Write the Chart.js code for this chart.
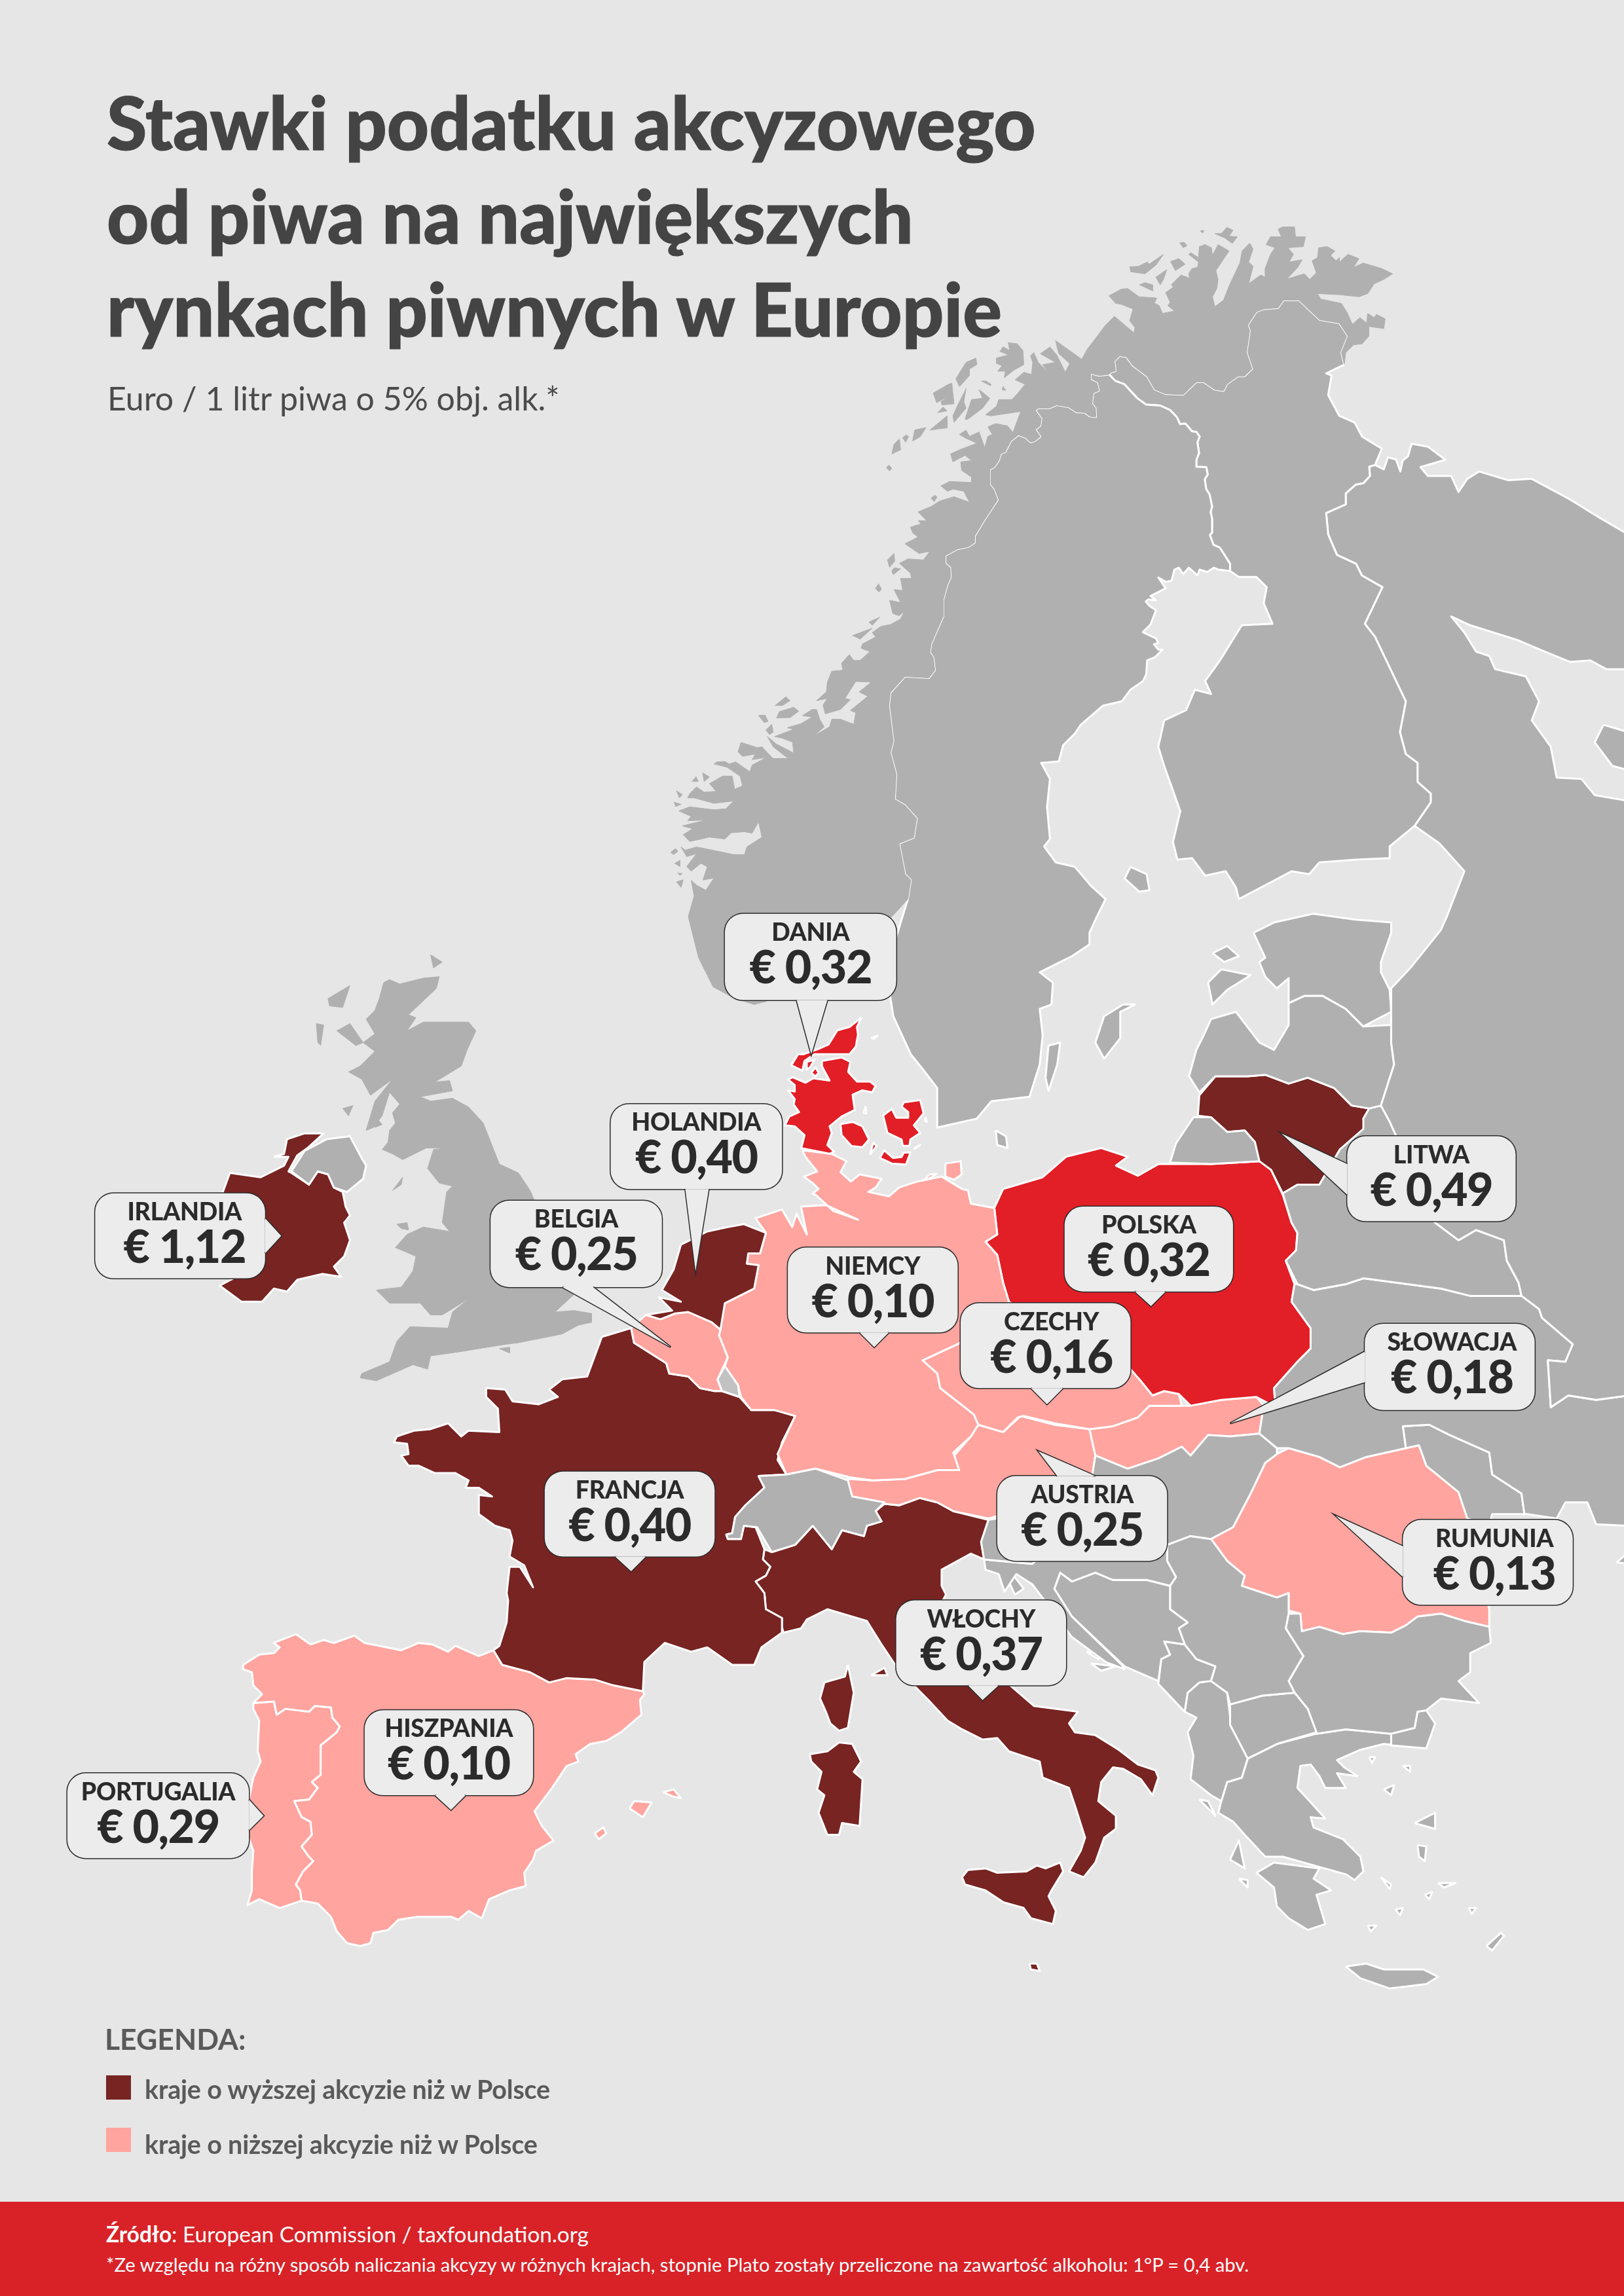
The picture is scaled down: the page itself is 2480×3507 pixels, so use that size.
<!DOCTYPE html>
<html lang="pl">
<head>
<meta charset="utf-8">
<title>Stawki podatku akcyzowego</title>
<script src="https://cdn.jsdelivr.net/npm/chart.js@4/dist/chart.umd.min.js"></script>
<style>
  html, body { margin: 0; padding: 0; background: #e6e6e6; }
  #page { position: relative; width: 2480px; height: 3507px; overflow: hidden; background: #e6e6e6; font-family: Lato, sans-serif; }
  #map { position: absolute; left: 0; top: 0; }
  .t { position: absolute; white-space: nowrap; }
  #title { left: 163px; top: 115px; font-size: 111.5px; font-weight: 900; line-height: 142.5px; color: #444; -webkit-text-stroke: 1.2px #444; }
  #sub { left: 164px; top: 578px; font-size: 50px; color: #4b4b4b; }
  #legTitle { left: 160px; top: 3087px; font-size: 44.5px; font-weight: 700; color: #5a5a5a; }
  .swatch { position: absolute; left: 162px; width: 38px; height: 37px; }
  .leg { left: 221px; font-size: 39.5px; font-weight: 700; color: #5a5a5a; letter-spacing: -0.2px; }
  #foot { position: absolute; left: 0; top: 3363px; width: 2480px; height: 144px; background: #d82227; }
  #src { left: 162px; top: 3392px; font-size: 33.4px; color: #fff; }
  #note { left: 162px; top: 3441px; font-size: 29.2px; color: #fff; }
  .name, .val { position: absolute; text-align: center; white-space: nowrap; color: #2b2b2b; transform: translateX(-50%); }
  .name { font-size: 37.5px; font-weight: 900; line-height: 40px; letter-spacing: -0.3px; }
  .val { font-size: 70px; font-weight: 900; line-height: 76px; letter-spacing: -1.5px; }
</style>
</head>
<body>
<div id="page">
  <canvas id="map" width="2480" height="3507"></canvas>
  <div class="t" id="title">Stawki podatku akcyzowego<br>od piwa na największych<br>rynkach piwnych w Europie</div>
  <div class="t" id="sub">Euro / 1 litr piwa o 5% obj. alk.*</div>
  <div class="t" id="legTitle">LEGENDA:</div>
  <div class="swatch" style="top:3170px;background:#772422"></div>
  <div class="t leg" style="top:3167px">kraje o wyższej akcyzie niż w Polsce</div>
  <div class="swatch" style="top:3250px;background:#ffa49f"></div>
  <div class="t leg" style="top:3251px">kraje o niższej akcyzie niż w Polsce</div>
  <div id="foot"></div>
  <div class="t" id="src"><b>Źródło</b>: European Commission / taxfoundation.org</div>
  <div class="t" id="note">*Ze względu na różny sposób naliczania akcyzy w różnych krajach, stopnie Plato zostały przeliczone na zawartość alkoholu: 1°P = 0,4 abv.</div>
</div>
<script>
// stawki akcyzy
const countries = ['IRLANDIA', 'HOLANDIA', 'BELGIA', 'DANIA', 'NIEMCY', 'POLSKA', 'CZECHY', 'LITWA', 'SŁOWACJA', 'FRANCJA', 'AUSTRIA', 'RUMUNIA', 'WŁOCHY', 'HISZPANIA', 'PORTUGALIA'];
const rates = [1.12, 0.40, 0.25, 0.32, 0.10, 0.32, 0.16, 0.49, 0.18, 0.40, 0.25, 0.13, 0.37, 0.10, 0.29];
const polandRate = 0.32;

// obrysy krajow: x,y,x,y... w jednostkach skali mapy
const norSwe = [620,614,622,601,618,597,614,576,624,572,626,559,618,550,611,546,612,529,608,514,610,506,607,482,608,473,618,462,634.3,463,638.4,457.7,637.3,448.8,635,445.8,635.8,439.9,644,421.2,644,410,647,399,649.2,394.4,648.8,387.7,645.5,384.7,645.5,379.5,653.7,375,661.2,373.5,665.6,370.5,665.6,366,672.4,354.9,681.3,341.4,678.3,334,675.8,331,675.8,320.6,679,319,682,314.6,683.5,309.8,686.5,308.6,690.3,301.2,695.5,297,700.7,299,703.7,302,706.6,301.2,710.4,298.2,707,293.4,710.4,290.7,711.1,286,707,280.3,709,278.8,716.3,278.8,721.6,276.6,729.8,278,735,281.4,741,281.8,744,284.3,748.4,284.8,748.1,278.8,745.7,275.8,746.5,268.4,750.3,266.9,749.2,261.7,744.7,259.4,744.7,255,750.6,256.5,757.3,255.7];
const sweFin = [757.3,255.7,761.8,260.2,767.8,262.4,776.7,272,782.7,276.3,792.4,277,799,280,803.6,284.8,805.8,289.6,809.5,289.3,814,294.5,817,295,819.2,298.2,817.7,302,818.8,309.4,817,314,817,318.8,823.7,319,824.7,324,822.7,327.3,823.7,334,826,337.7,827.7,346,826.7,349.6,827.7,354.1,827.7,363.8,826.2,365.3,828.6,372,833,374,840,385,840,390];
const finNor = [757.3,255.7,758.8,254.2,761.7,253.4,761,246.7,764.7,243,769.2,243.7,773.7,249.7,783.4,257,788.6,266,796,269,808,269.5,817,260.9,822,260.9,829.6,266,835.5,266.9,837.8,262.4,845.2,257,849.7,257,855,252,851.2,240.8,853.4,225.9,852,222,858,213,863,211,872.8,210.2,876.5,205,887,205];
const finEast = [901.2,218.4,914.6,220.6,920.5,229.6,916,240.8,918,249,905.6,255,909.3,256.4,907,269.8,914.6,284,925,288.5,930.2,298.2,943.6,306.4,939,317.5,935,318.7,935.5,325,931,330,925.7,331,919,337,919,344.4];
const finRus = [919,344.4,905.6,350.4,907,365,913,379,926,385,930,393,944,401,932,426,939,435,960,479,956,500,960,515,968,521,968,534,977,542,977,548,966,564];

const swedenCoast = [832,389,829,387.7,824.4,390.6,819.2,389,817.7,393,811.8,387.7,808,392,805,387.7,802,389,800,396.6,796,397.4,791,394.4,796,401.8,785.7,407,789.4,410,784.2,409.3,782.4,410.8,785,413.8,789.4,416.7,785.7,426.4,780.4,431.7,789.4,436,790.9,439,788,440,790.9,443.6,794,443.6,788.7,448.8,783.4,451,782.7,460.7,780.4,465.2,772,471,766,479,753,482,738,495,734,501,726,509,723,520,711,521,717,532,715,551,717,573,713,578,721,589,734,592,745,605,755,614,749,626,744,637,744,645,732,653,722,658,710,664,719,671,718,686,710,689,712,707,710,727,703,749,677,752,667,764,640,770,640,743,630,730,622,720,610,694,608,681,612,640];
const finlandCoast = [949,578,949,586,926,587,901,589,894,597,882,595,867,603,846,614,844,606,837,595,823,598,814,586,804,587,801,575,806,554,795,523,791,510,795,492,810,485,816,471,827,474,823,465,831,454,835,448,848,427,869,426,863,412,865,401,858,394,846,394];
const norwaySouth = [610,625,570,660,523,684,515,686,502,682,487,674,477,654,470,626,474,612,472,601,475.6,604.5,482,608,488,599,508,596,480,601,483,592,478.6,589.6,472,595,469,591.8,475.6,583,469,585,465,578.4,468,580.6,475.6,578.4,493.6,582,501,583.6,508.4,583.6,510,578.4,520.3,571.7,518,561.3,513.6,569,508.4,568,499.4,568.7,495,573,484.5,571.7,471,574.7,466.6,570,473,566,466,564,482.3,560,469.6,560.5,471.9,557.5,463.6,553.8,471,551,487.5,553,495.7,552.3,501,547,487.5,548.6,474,544.9,469.6,544.9,471,542,475.6,537.4,480.8,541,489,540.4,484.5,535.2,493.4,530,500,530,501.7,539,507,536.7,505.4,530,496.5,524,487.5,521.7,489.7,520.3,495,520,498,521.7,502.4,520.3,512,527,513.6,522.5,523.3,517.3,513.6,518.8,515.8,515,507,516.5,504,513.5,506,507,517.3,510.6,520.3,510,527.8,518,538.2,518,528,510,524,503,530,508,542,514.3,541.2,506.8,533.7,504,529,503,542,498,537.5,497,547,494.2,554.6,489.7,548,488.7,554.6,484.5,557.6,484.5,559.8,491.2,562.8,496.4,556,502.4,566.5,496.4,568,491.2,574,491.2,583,494.6,584.4,486.7,580.7,485.2,592.6,475.5,586.7,472.5,595,465.8,584.4,465.4,577,477,580.7,477.8,574,484.5,563.5,487.5,562,481.5,565,477,557.6,478.5,564.3,472.5,565,465.8,568,458.4,575.5,457.7,574.7,453,580,447,583,451,587.4,451,594,445,588,442.7,589,439.7,598,435,595.6,432,601.6,427.8];
const norwayMid = [608,426.5,615,422.7,617.5,417.5,614,420.5,609.7,419,607.5,410,615,411.5,610.5,402.6,616.4,403.3,615,395,622.4,395,621.7,391.4,614.2,384.7,620,381.7,630.6,382.4,635,376.5,627.6,378,618,371.3,626.9,366.8,623.2,363.8,621.7,360,629,357.8,627,355.6,632.8,355.6,626.9,349.6,635.8,345.9,641.8,342.2,651.5,339.2,662,343,658.2,335.5,650.7,334,647,335.5,642.5,331.8,648.5,328.8,663.4,329.5,663.4,325.8,656.7,321.3,656,315.4,663.4,314.6,659,311,650.7,315.4,649.2,310,655.2,307.2,667,302.7,659,299,655.2,296.7,659.7,293.7,662,298,668.6,295,672.4,305.6,674.6,298,677.6,296.7,674.6,291.5,679.8,289.3,688,290.8,691.7,295.2,696.2,283.3,697,281,676.8,284,673,283.3,680.6,277.3,682,272.9,691,272.9,694.7,269,700,262.4,693.2,259.4,699.2,254.2,704.4,255.7,705.2,247.5,703.7,243,706,240.8,709,247.5,715.6,254.2,712,249,720.8,247.5,710.4,241.6,717,237,721.6,242.3,727.5,254.2,730.5,248.3,723,241.5,720.8,232.6,738.7,245.3,742.4,238.6,747,232.6];
const norwayNorth = [755,222,761,216,774.4,227.3,775,223.6,771.4,219,773.7,211,766.2,208,761.7,207,757.3,202,765.5,197.5,770,197,778,202.7,790,203.5,788.3,207,791.6,208.7,793.8,214,802,212.4,797.5,208.7,799,206.5,796,199.8,801.3,196,799.8,194.5,806.5,187.8,812.4,190,811.7,187,814,183.4,817.7,182.6,818.4,179,811.7,173.7,813.2,172.6,818.4,175.9,819,168.4,822.9,167,827.3,169.2,828,174.4,831.8,167,839.3,171.4,830.3,184.8,831.8,190.8,831,196.8,828,202.7,829.6,209.4,835.5,205,839.3,195.3,846.7,179.6,848.2,171.4,853.4,166,855.7,170,852.7,178.9,855.7,181.9,852.7,193.8,860.9,187.8,863.9,189.3,863.9,183.4,867.6,173.7,870.6,169.2,864.6,167,867.6,161.7,875,161.7,872.8,156.5,875.8,155,884,155,884.7,161.7,891.5,161.7,890,168.4,879.5,169.2,883.3,173.7,880.3,178.9,889.2,177.4,886.2,182.6,878.8,190.5,890.7,187,894.4,190.8,898.9,186.3,896,178.1,899.7,175.9,900.4,169.2,906.4,168.4,911.6,171.4,908.6,174.4,912.3,178.1,914.6,175.9,914.6,178.9,920.5,173.7,928,176.6,924.3,182.6,931,179.6,943.6,183.4,951,187,945,190.8,938.4,193.8,934,200.5,928,202.7,915.3,201.3,899.7,200.5,901.9,204.2,916,207.2,919.8,213.2,923.5,221.4,928.7,216.9,933.2,220.6,934,214,938.4,216.9,939.9,214.7,945.9,217.7,945,224.4,934.7,222.9,934.7,229.6,930.2,234.8,924.3,235.5,919,240.8,918,249];
const norwayIslands = [[682.8,240,688.8,242.3,680.6,244.5,680.6,248.3,684.3,249.7,681.3,253.5,686.5,253.5,685.8,258,692.5,252.7,699.2,249,698.5,239.3,694.7,234.8,688.5,234,689.5,239.3,685,236.8],[659.7,247.5,666.4,244.5,667.1,249,662,252,662,256.5,655.2,264,652.7,258.7],[637.3,268.4,647.8,262.4,650,261.7,651.5,275.8,643.3,276.6,642.5,274.4,647.8,270.6,639.6,275],[653.7,277.3,659.7,265.4,658.2,274.4,659.7,278.8,651.5,288.5,650.7,284],[659,286.3,663.4,272.9,670.9,272,668.6,266,676,272,670.9,278.8,661,286.3],[640.3,281.8,644,278,646.7,280.6],[635,293.7,646.7,284,646.7,292.2],[623.2,301.2,624.6,293.7,632.4,292,628.4,298.2],[616.4,299,618.7,297,620.5,298.2,618.4,302],[609,310,610.5,303.4,614.2,299.7,615,307.2],[605.3,319.4,607,317.6,609,319.8,607.5,321.6],[670.1,260.2,673.1,260.2,676.8,262.4,676.5,263.5],[606,382.4,610.5,378,611,383.2,607.5,387.4],[609,390,610.5,387.7,615,388.4,610,392.4],[635.8,340.2,638.4,338.2,639.9,339.4,638,342.6],[684.3,266.2,685,263.9,686.8,266.6],[597.8,401.7,600,398.7,602,402.5,600,404.3],[593.4,424.8,600.8,421.5,595.6,427],[582.2,434,595.6,429,587.4,436.5],[529.3,481.8,536.7,475.8,539.4,478.5,534.5,481.8],[532.2,486,542,483,545.4,485.7,539.7,490,530.3,490.4],[518,488.6,522.5,488.3,524.5,492.7,521.8,493.4],[523,498.6,527,494.6,528,500.1,525.5,501.6],[472.6,533.7,475.3,530.4,476.8,533.7],[479.8,527.7,484.5,530.7,480.8,533.7],[461.9,540,465.9,542.6,464,544.9],[460.4,547.8,465.1,549.3,461.4,550.8],[458,582,461.4,579.6,462.9,581.4,460,583.6],[460.7,589.6,464.4,587.6,464.4,591.8],[462.9,596.3,465.9,596.6,464.4,597.8],[461.9,602.3,466.6,600.8,465.1,606],[771.4,182.2,777.4,181.9,783.4,178.9,784.8,180.4,794.5,173.7,789.3,181.1,781.9,187,772.2,185.6],[778.1,194.5,781.9,193,787.1,194.5,787.1,198.6],[789.3,189.3,796.8,184.1,794.5,190.8,792.3,194.5],[799.3,178.6,805,176.6,809.4,180.4,802.7,184.8],[805.7,165.8,808.7,165.5,810.6,167.7,808,169.2],[829.6,159.5,834,159.5,837.8,155.3,842,157.3,839.3,161.3,845,161.7,841.5,166.2,836.3,162.5],[819.6,157.7,822.1,157.3,821.4,159.2]];

const russia = [919,344.4,919,337,925.7,331,931,330,935.5,325,935,318.7,939,317.5,945,320.5,947.8,312.3,953.3,313.8,956.3,322,957.8,314.6,961.5,311.6,964,303,975,305,987,314,970,319,975,325,991,325,996,336,1002,327,1010,322,1030,328,1046,327,1072,341,1093,354,1112,365,1112,457,1097,457,1086,451,1072,452,1055,445,1036,437,1004,427,991,421,1000,432,1008,445,1017,448,1021,457,1042,462,1051,479,1046,492,1059,510,1063,531,1080,532,1089,543,1112,547,1112,953,1090,956,1071,953,1059,961,1057,929,1069,930,1074,918,1053,900,1051,894,1039,885,1037,876,1029,861,1027,847,1008,840,996,847,980,835,949,766,943,755,952,727,950,712,950,675,964,660,984,635,988,626,1000,595,983,576];
const estonia = [856,637,870,630,897,624,925,628,950,630,950,637,943,657,943,664,949,676,950,691,931,701,919,689,903,680,891,680,880,685,880,668,872,675,864,667,860,657,864,654];
const latvia = [880,685,891,680,903,680,919,689,931,701,950,700,950,712,952,727,943,755,935,757,923,755,911,743,893,736,880,740,864,734,852,735,830,735,819,746,812,735,817,717,822,707,827,696,844,691,860,712,870,717,880,700];
const kaliningrad = [815,763,827,763,838,773,850,772,857,780,860,793,827,795,799,794,803,781];
const belarus = [876,815,886,809,901,809,915,785,931,771,931,764,935,757,943,755,949,766,980,835,996,847,1008,840,1027,847,1029,861,1037,876,1039,885,1004,885,984,880,931,873,919,877,897,881,886,877,878,861,885,854,886,842,882,835];
const ukraine = [886,877,897,881,919,877,931,873,984,880,1004,885,1039,885,1051,894,1053,900,1074,918,1069,930,1057,929,1059,961,1071,953,1090,956,1112,953,1112,1042,1090,1041,1084,1026,1069,1026,1063,1037,1043,1034,1041,1034,1039,1020,1019,1007,1017,992,990,980,976,973,958,974,960,989,933,995,915,1002,901,995,880,989,872,989,860,979,863,960,871,960,870,948,886,930,895,921,895,907,882,889,884,877];
const moldova = [958,974,976,973,990,980,1017,992,1019,1007,1039,1020,1041,1034,1019,1034,1017,1042,1002,1037,996,1019,974,1001,969,987,960,989];
const hungary = [748,994,770,1003,791,996,807,988,813,994,825,980,840,981,860,979,872,989,872,993,864,999,854,1020,842,1043,827,1051,813,1049,797,1055,760,1055,735,1030,746,1007];
const slovenia = [675,1038,720,1030,735,1030,730,1045,705,1068,672,1065,670,1053];
const croatia = [672,1065,705,1068,730,1045,735,1030,760,1055,797,1055,797,1066,803,1077,799,1083,783,1079,760,1079,748,1074,732,1080,724,1074,720,1085,732,1104,766,1137,768,1140,755,1135,732,1118,705,1082,694,1075,686,1087,682,1075,673,1072];
const bosnia = [724,1074,732,1080,748,1074,760,1079,783,1079,799,1083,799,1099,811,1108,805,1112,809,1123,795,1121,799,1130,793,1133,791,1148,768,1138,732,1104,720,1085];
const serbia = [797,1055,813,1049,827,1051,838,1066,850,1076,848,1083,872,1091,880,1088,880,1102,878,1112,890,1131,880,1148,884,1156,862,1158,840,1164,838,1156,827,1148,830,1138,817,1133,809,1123,805,1112,811,1108,799,1099,799,1083,803,1077,797,1066];
const montenegro = [809,1123,817,1133,830,1138,827,1148,819,1149,811,1156,809,1169,791,1150,793,1133,799,1130,795,1121];
const albania = [811,1156,819,1149,827,1148,838,1156,840,1172,840,1178,852,1201,848,1214,838,1217,834,1230,827,1226,813,1215,815,1199,811,1183,817,1173,809,1169];
const macedonia = [840,1164,862,1158,884,1156,893,1167,899,1183,872,1191,852,1201,840,1178];
const bulgaria = [880,1102,888,1102,889,1114,901,1111,917,1116,929,1114,950,1115,960,1110,968,1104,984,1102,1000,1107,1017,1111,1018,1122,1004,1129,1004,1142,996,1148,1010,1163,984,1160,974,1168,968,1169,966,1180,950,1184,919,1181,899,1184,893,1167,884,1156,880,1148,890,1131,878,1112];
const turkey = [974,1168,980,1177,974,1194,950,1192,950,1184,966,1180,968,1169];
const greece = [899,1184,919,1181,950,1184,966,1180,974,1194,945,1191,929,1195,913,1202,918,1207,927,1213,913,1211,919,1221,905,1221,901,1213,895,1205,888,1206,886,1221,897,1233,905,1242,895,1241,897,1248,917,1256,929,1268,931,1278,925,1284,919,1280,901,1275,876,1268,864,1268,850,1253,842,1244,832,1238,834,1230,838,1217,848,1214,852,1201,872,1191];
const greekIslands = [[858,1279,870,1272,901,1276,897,1283,909,1291,899,1294,905,1314,893,1318,880,1310,872,1302,870,1289],[899,1251,917,1259,931,1275,923,1270,901,1257],[919,1343,933,1341,945,1345,972,1345,982,1350,974,1355,949,1358,929,1351],[1015,1329,1025,1320,1027,1322,1019,1332],[966,1245,980,1238,980,1249],[968,1260,974,1261,973,1271,969,1268],[819,1229,825,1230,830,1240],[840,1270,846,1257,850,1276],[846,1283,852,1284,852,1289],[945,1222,952,1219,950,1226],[935,1200,939,1200,937,1204],[958,1206,963,1206,963,1210],[943,1282,950,1287,949,1290],[982,1286,994,1286,986,1289],[973,1294,978,1292,976,1297],[953,1304,958,1303,956,1308],[1003,1303,1008,1303,1005,1307],[934,1315,940,1315,936,1319]];
const adriaticIslands = [[689,1080,693,1077,699,1085,693,1089],[742,1128,757,1130,750,1133],[745,1136,762,1138,752,1141]];
const uk = [262,671,266,669,273,672,289,668,300,667,298,675,279,693,284,695,278,704,289,698,320,698,325,704,319,717,315,728,297,739,307,738,309,745,287,749,294,752,309,750,320,756,330,767,341,795,354,801,362,813,365,820,375,850,392,884,379,896,392,895,404,897,404,903,395,905,384,911,354,917,346,918,333,920,315,923,294,926,292,935,282,932,257,943,246,941,247,938,266,930,271,916,280,906,306,907,309,896,320,887,302,898,294,898,287,890,266,890,257,881,274,879,282,868,284,858,270,852,278,843,289,838,307,841,302,835,305,814,309,810,300,808,292,798,296,785,306,784,291,784,275,792,268,788,261,785,265,780,266,772,270,767,268,760,273,754,266,746,261,762,255,770,250,772,256,752,268,737,253,748,247,737,238,732,246,728,256,718,248,712,256,706,250,696,256,690,259,682];
const northIreland = [199,800,208,786,223,778,239,776,247,791,250,796,248,805,237,814,228,811,224,802,217,800,211,809];
const ukIslands = [[224,682,239,673,234,688,225,687],[230,704,239,699,248,712,243,714],[216,699,221,700,219,714,217,712],[234,757,241,755,238,762],[256,762,261,768,256,770],[268,813,275,804,274,809],[271,836,278,835,279,840,274,839],[294,652,302,657,296,661],[341,921,348,920,348,924]];
const balticIslands = [[772,592,783,597,785,608,778,609,768,600],[825,671,834,662,854,666,838,676,828,686],[828,651,838,646,846,653,836,657],[748,712,754,694,767,686,775,686,765,691,765,709,754,723],[714,736,716,714,724,712,722,727,716,745],[680,772,687,776,688,784,681,782],[1095,495,1112,500,1112,526,1101,523,1089,507],[1104,1067,1112,1060,1112,1068]];
const swiss = [518,1008,537,1007,557,1003,579,1011,582,1022,604,1026,598,1032,602,1039,592,1042,590,1049,575,1045,568,1058,555,1042,543,1055,527,1060,517,1043,508,1042,506,1051,497,1051,496,1048,500,1047,502,1036,509,1028,522,1016];
const luxembourg = [495,933,490,942,493,950,505,954,504,946];
const peipus = [952,678,962,676,962,684,970,691,980,693,984,700,964,707,954,714,950,707];

const ireland = [[187,790,194,788,196,778,208,774,221,774,210,784,203,789,197,800,199,801,211,809,217,800,224,802,228,811,234,814,236,824,239,830,235,835,239,847,235,858,228,865,233,872,220,870,203,874,196,882,187,880,179,889,165,889,150,878,165,870,160,860,150,850,150,820,157,801,178,804,194,796,197,790]];
const netherlands = [[465,850,483,841,497,838,508,836,523,842,519,856,511,856,510,863,518,864,515,880,495,890,492,908,486,903,470,896,461,897,451,901,441,898,459,895,450,886,465,889,452,881,460,867]];
const belgium = [[431,907,441,898,451,901,461,897,470,896,486,903,492,908,491,912,497,927,490,942,493,950,488,950,478,948,470,940,457,938,455,931,433,917]];
const denmark = [[588.2,695,585.2,701.4,585.9,706.6,584.4,714.8,580,720,569.5,720,556.1,720,549.4,724.5,547.9,731.2,540.4,727.5,544.9,720,548.6,720,559,716.3,565.8,713.3,571.8,703.6,580,701.4],[561.3,724.5,574.7,722.2,580.7,725.2,579.2,732,585.2,738.6,594.1,738.6,597.9,741.6,595.6,746,588.9,744.6,582.2,747.6,583.7,758,574.7,762.5,566.5,769.2,568,773.7,565,782,569.5,786.4,566.5,787.9,547.2,784.1,549.4,775.2,542.7,769.2,536,768.5,539,762.5,545.7,759.5,542,754.3,542.7,750.6,538.2,744.6,542.7,745.4,542.7,741,538.2,737.2,541.2,735.7,550.1,739.4,555.4,736.4,566.5,737.9,561.3,728.2],[550.9,725.2,556.1,723.7,553.1,729,550.9,730.5],[553.9,732.7,556.8,729,559.1,732.7,556.8,735],[574,767.7,582.2,766.2,588.9,769.2,593.4,778.2,588.9,783.4,581.4,782.6,574.7,775.2],[603.1,761.8,609,757.3,612,763.3,620.2,763.3,620.2,759.5,615.7,755.8,617.2,752.8,628.4,751.3,630.7,760.3,624,768.5,628.4,773.7,621.7,778.2,621,782.6,616.5,782.6,615.7,778.2,606,773.7],[600.8,790.8,603.8,785.6,609.8,790.8,615.7,790.1,617.2,787.1,621.7,787.1,618.7,795.3,609,794.6],[594.1,788.6,596.4,780.4,598.6,782.6],[589.6,760.3,591.1,755.8,591.6,760.3],[594.9,708.8,599.3,707.3,597.1,709.3],[624,784.9,628.4,781.9,624.7,784],[631.4,765.5,632.1,763.3,632.9,766]];
const germany = [[548,785.6,568,788,578,793,574,800.5,581,807,587,802,602,805,598,811,593,814,607,817,614,811,626,807,643,803.5,657,812,661,813,663,822,679,825,681,843,673,848,681,857,685,876,689,889,656,917,630,929,640,938,642,948,665,966,668,973,663,981,651,992,655,1004,640,1004,618,1010,596,1011,581,1009,557,1003,537,1007,531,993,543,967,529,963,513,963,506,954,504,946,495,933,497,927,491,912,495,890,515,880,518,864,510,863,511,856,519,856,523,842,516,832,534,826,541,838,544,829,551,843,547,824,564,823,586,833,569,827,557,816,555,815,559,812,555,808,549,803.5,558,800,550,790],[645.6,794.6,656,793,656.7,802,651.5,805.7,645.6,803.5],[629,808,635,802,639.6,801.7,632,806.5]];
const poland = [[685,812,712,804,728,790,752,784,770,790,762,796,777,803,791,795,827,795,860,793,868,799,876,816,882,835,886,842,885,854,878,861,884,877,882,889,895,907,895,921,886,930,870,948,871,961,858,954,834,956,813,960,805,952,795,950,787,953,779,943,772,935,744,922,689,889,685,876,681,857,673,848,681,843,679,825]];
const czechia = [[656,917,689,889,744,922,772,935,779,943,787,953,795,950,805,952,807,960,795,960,785,960,777,968,760,974,744,976,720,972,699,967,695,968,685,978,668,973,665,966,642,948,640,938,630,929]];
const lithuania = [[819,748,830,735,852,735,864,734,880,740,893,736,911,743,923,755,935,757,931,764,933,771,915,785,901,809,886,809,876,815,868,799,854,791,857,780,850,772,838,773,827,763,818,762]];
const slovakia = [[744,976,760,974,777,968,785,960,795,960,807,960,813,960,834,956,858,954,863,960,860,979,840,981,825,980,813,994,807,988,791,996,770,1003,748,994]];
const france = [[411,913,431,907,433,917,455,931,457,938,470,940,478,948,488,950,493,950,505,954,513,963,529,963,543,967,534,985,531,997,537,1007,518,1008,522,1016,509,1028,502,1036,500,1047,496,1048,497,1051,506,1051,508,1042,516,1043,522,1058,521,1065,526,1070,523,1076,516,1080,522,1088,523,1099,534,1105,534,1115,520,1125,515,1137,500,1137,483,1125,472,1128,454,1122,440,1135,439,1155,419,1151,406,1147,387,1146,375,1149,362,1142,343,1137,337,1127,341,1124,346,1108,347,1093,346,1088,348,1070,355,1070,364,1084,358,1069,348,1063,350,1052,348,1045,338,1042,327,1034,327,1021,336,1022,327,1016,318,1016,320,1011,311,1006,297,1006,286,1001,279,1001,274,994,279,993,278,986,269,985,271,981,283,977,294,976,306,972,315,981,320,977,341,978,340,962,332,954,332,948,345,949,350,957,368,959,381,954,375,949,384,942,401,940]];
const austria = [[668,973,685,978,697,967,720,973,744,976,748,994,746,1007,745,1020,700,1030,675,1037,651,1032,640,1026,628,1023,614,1028,604,1027,598,1025,581,1022,579,1010,596,1011,618,1010,640,1004,655,1004,649,997,663,981]];
const romania = [[872,993,880,989,901,995,915,1002,933,995,960,989,969,987,974,1001,996,1019,1002,1037,1010,1070,1017,1099,1017,1111,1000,1107,984,1102,968,1104,960,1110,950,1115,929,1114,917,1116,901,1111,889,1114,888,1102,880,1100,880,1088,872,1091,848,1083,850,1076,838,1066,827,1051,842,1043,854,1020,864,999]];
const italy = [[527,1060,543,1055,555,1042,568,1058,575,1045,590,1049,592,1042,602,1039,598,1032,604,1027,614,1028,628,1023,640,1026,651,1032,675,1038,670,1053,672,1065,663,1061,643,1072,643,1083,646,1089,642,1096,665,1130,691,1152,706,1165,736,1169,730,1177,734,1183,748,1185,764,1195,777,1205,789,1209,791,1214,787,1226,779,1215,767,1208,760,1207,752,1217,750,1230,762,1240,762,1249,754,1255,748,1272,740,1282,730,1278,738,1264,741,1255,735,1236,730,1221,712,1214,710,1203,689,1196,681,1187,671,1188,657,1181,647,1175,634,1161,626,1153,612,1138,602,1123,592,1107,565,1099,551,1106,547,1112,535,1115,534,1111,534,1105,523,1099,522,1088,516,1080,523,1076,526,1070,521,1065,522,1058],[657,1282,661,1277,673,1276,681,1279,701,1278,708,1274,714,1276,724,1272,726,1278,718,1291,716,1295,721,1305,719,1314,704,1310,699,1303,685,1299,673,1291,659,1287],[553,1198,565,1196,573,1190,582,1191,588,1203,583,1210,589,1215,587,1247,575,1245,573,1253,565,1253,559,1238,563,1226,558,1222,561,1210,554,1203],[579,1137,583,1156,579,1180,573,1182,567,1177,564,1169,560,1160,563,1149,577,1145],[595,1144,604,1139,606,1144],[703,1341,708,1341,710,1346,704,1345]];
const spain = [[166,1137,177,1130,187,1129,191,1125,187,1122,202,1116,212,1123,221,1120,228,1122,242,1117,249,1122,274,1127,286,1122,295,1123,306,1128,311,1124,327,1131,337,1127,343,1137,362,1142,375,1149,387,1146,406,1147,419,1151,439,1155,440,1157,437,1161,438,1171,424,1183,414,1189,403,1191,393,1198,395,1203,387,1206,377,1221,365,1237,370,1247,378,1257,366,1264,364,1270,358,1279,359,1288,348,1291,334,1297,329,1310,320,1305,313,1311,308,1309,285,1309,272,1311,265,1318,255,1320,253,1327,246,1329,237,1327,230,1319,226,1309,217,1300,206,1298,205,1291,202,1287,207,1278,214,1271,211,1268,206,1261,213,1253,212,1244,206,1241,201,1230,211,1229,217,1221,213,1217,219,1212,219,1192,230,1183,232,1179,227,1173,226,1166,215,1165,211,1169,195,1167,189,1171,187,1162,173,1163,179,1157,173,1151,172,1142,166,1140],[406,1252,412,1248,414,1252,409,1256],[430,1235,433,1230,445,1231,439,1241],[453,1224,460,1222,465,1228,460,1227]];
const portugal = [[173,1163,187,1162,189,1171,195,1167,211,1169,215,1165,226,1166,227,1173,232,1179,230,1183,219,1192,219,1212,213,1217,217,1221,211,1229,201,1230,206,1241,212,1244,213,1253,206,1261,211,1268,214,1271,207,1278,202,1287,205,1291,206,1298,191,1303,177,1297,169,1301,172,1291,172,1278,173,1264,168,1250,170,1229,173,1214,178,1203,176,1196,177,1175,173,1167]];
const countryShapes = [ireland, netherlands, belgium, denmark, germany, poland, czechia, lithuania, slovakia, france, austria, romania, italy, spain, portugal];

// dymki: lewa, gorna, prawa, dolna krawedz i ogon (dwa punkty podstawy + czubek)
const bubbleBoxes = [[65,815,181,873],[417,754,534,812],[335,820,452,879],[495,624,612,683],[538,852,654,910],[727,824,842,882],[656,890,772,948],[920,776,1035,834],[932,904,1048,963],[372,1005,488,1063],[681,1008,797,1066],[958,1038,1074,1096],[612,1093,728,1151],[249,1168,364,1226],[46,1211,170,1269]];
const bubbleTails = [[181,832,192,844,181,856],[468,812,475,868,484,812],[384,879,458,920,405,879],[544,683,554,720,565,683],[587,910,597,920,607,910],[775,882,786,892,796,882],[704,948,715,959,726,948],[920,795,875,774,920,816],[932,923,840,972,932,944],[420,1063,431,1073,441,1063],[722,1008,709,991,748,1008],[958,1056,912,1035,958,1077],[661,1151,671,1161,682,1151],[297,1226,308,1236,318,1226],[170,1229,180,1240,170,1250]];
// pomestuvanje na tekstot vo dymkata, vo isti edinici
const bubbleTextShift = [3, 0, 0, 0, 0, 0, 4, 0, 1.5, 0, 0, 4.5, 0, 0, 0];

const BG = '#e6e6e6', GREY = '#b0b0b0', DARK = '#772422', PINK = '#ffa49f', RED = '#e21e26';

function toPoints(flat) {
  var pts = [];
  for (var i = 0; i < flat.length; i += 2) pts.push({ x: flat[i], y: flat[i + 1] });
  pts.push({ x: flat[0], y: flat[1] }); // zatvori go obrysot
  return pts;
}
function rev(flat) {
  var out = [];
  for (var i = flat.length - 2; i >= 0; i -= 2) out.push(flat[i], flat[i + 1]);
  return out;
}
function shape(flat, color, line, width) {
  return { data: toPoints(flat), showLine: true, fill: 'shape', backgroundColor: color, borderColor: line || '#ffffff', borderWidth: width || 3, borderJoinStyle: 'round', pointRadius: 0, tension: 0 };
}
function rateColor(r) {
  if (r > polandRate) return DARK;
  if (r < polandRate) return PINK;
  return RED;
}

const sweden = norSwe.concat(sweFin.slice(2), swedenCoast);
const finland = rev(sweFin).concat(finNor.slice(2), finEast.slice(0, -2), finRus, finlandCoast);
const norway = norwaySouth.concat(norwayMid, norwayNorth, rev(finEast.slice(0, 8)), rev(finNor), rev(norSwe));
const russiaFull = russia.concat(rev(finRus));

var datasets = [];
// norveska i britanija nemaat bel rab na bregot
[norway, uk].forEach(f => datasets.push(shape(f, GREY, GREY, 1)));
norwayIslands.concat(ukIslands).forEach(f => datasets.push(shape(f, GREY, GREY, 1)));
[sweden, finland, russiaFull, estonia, latvia, kaliningrad, belarus, ukraine, moldova, hungary, slovenia, croatia, bosnia, serbia, montenegro, albania, macedonia, bulgaria, turkey, greece, northIreland, swiss]
  .forEach(f => datasets.push(shape(f, GREY)));
greekIslands.concat(adriaticIslands, balticIslands).forEach(f => datasets.push(shape(f, GREY)));
datasets.push(shape(peipus, BG, BG));
datasets.push(shape(luxembourg, '#c2c2c2'));
countryShapes.forEach((parts, i) => {
  parts.forEach(f => datasets.push(shape(f, rateColor(rates[i]))));
});

// dymki se crtaat po kartata, preku skalite
const bubblePlugin = {
  id: 'bubbles',
  afterDatasetsDraw(chart) {
    var ctx = chart.ctx, sx = chart.scales.x, sy = chart.scales.y;
    var px = v => sx.getPixelForValue(v), py = v => sy.getPixelForValue(v);
    bubbleBoxes.forEach((b, i) => {
      var l = px(b[0]), t = py(b[1]), r = px(b[2]), bt = py(b[3]), rad = 28, tl = bubbleTails[i];
      var tail = [[px(tl[0]), py(tl[1])], [px(tl[2]), py(tl[3])], [px(tl[4]), py(tl[5])]];
      ctx.save();
      ctx.beginPath();
      ctx.roundRect(l, t, r - l, bt - t, rad);
      ctx.fillStyle = '#ececec';
      ctx.strokeStyle = '#2b2b2b';
      ctx.lineWidth = 3;
      ctx.stroke();
      ctx.fill();
      ctx.beginPath();
      ctx.moveTo(tail[0][0], tail[0][1]);
      ctx.lineTo(tail[1][0], tail[1][1]);
      ctx.lineTo(tail[2][0], tail[2][1]);
      ctx.stroke();
      ctx.closePath();
      ctx.fill();
      ctx.restore();
    });
  }
};

var map = new Chart(document.getElementById('map'), {
  type: 'scatter',
  data: { datasets },
  options: {
    responsive: false,
    devicePixelRatio: 1,
    animation: false,
    layout: { padding: 0 },
    plugins: { legend: { display: false }, tooltip: { enabled: false }, title: { display: false } },
    scales: {
      x: { type: 'linear', min: 0, max: 1109, display: false },
      y: { type: 'linear', min: 0, max: 1568, reverse: true, display: false }
    }
  },
  plugins: [bubblePlugin]
});

// tekstot vo dymkite
var page = document.getElementById('page');
countries.forEach((name, i) => {
  var b = bubbleBoxes[i];
  var cx = map.scales.x.getPixelForValue((b[0] + b[2]) / 2 + bubbleTextShift[i]);
  var top = map.scales.y.getPixelForValue(b[1]);
  var n = document.createElement('div');
  n.className = 'name';
  n.textContent = name;
  n.style.left = cx + 'px';
  n.style.top = (top + 7) + 'px';
  var v = document.createElement('div');
  v.className = 'val';
  v.textContent = '€ ' + rates[i].toFixed(2).replace('.', ',');
  v.style.left = cx + 'px';
  v.style.top = (top + 41) + 'px';
  page.appendChild(n);
  page.appendChild(v);
});
</script>
</body>
</html>
